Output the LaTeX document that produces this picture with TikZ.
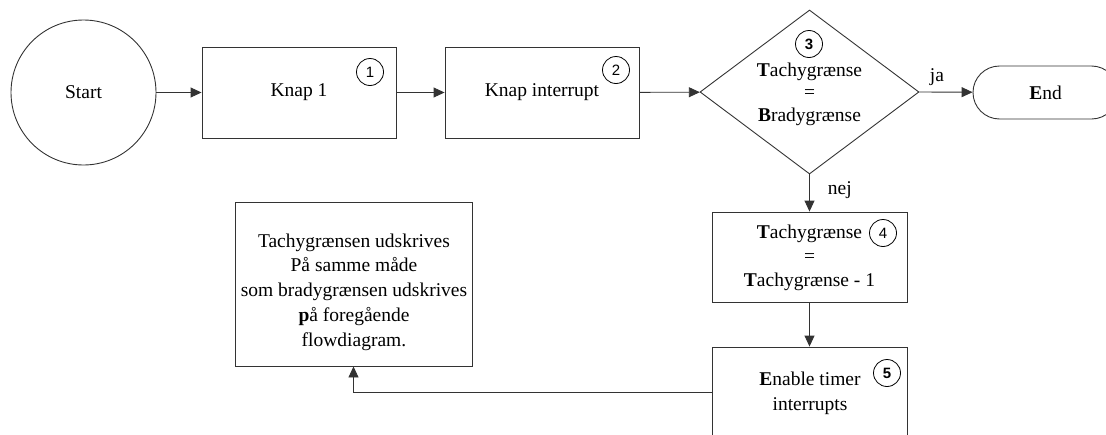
\documentclass[tikz,border=0pt]{standalone}
\usepackage{fontspec}
\setmainfont{Liberation Serif}
\newfontfamily\numfont{Liberation Sans}
\usetikzlibrary{arrows.meta,shapes.geometric,shapes.misc}

\begin{document}
\begin{tikzpicture}[x=1pt,y=-1pt,
  line/.style={draw=black!80, line width=0.9pt},
  flow/.style={line, -{Triangle[length=11pt,width=10pt]}},
  box/.style={line, rectangle, inner sep=0pt},
  lbl/.style={font=\fontsize{19.5}{24}\selectfont, inner sep=0pt, align=center},
  num/.style={draw=black, line width=0.8pt, circle, minimum size=27pt, inner sep=0pt,
              font=\numfont\fontsize{15}{15}\selectfont},
]
\useasboundingbox (0,0) rectangle (1106,434);
\clip (0,0) rectangle (1106,434);

% top row
\node[box, circle, minimum size=145pt, lbl] (start) at (83.5,92.5) {Start};
\node[box, minimum width=194pt, minimum height=91pt, lbl] (k1) at (299,92.5) {Knap 1};
\node[box, minimum width=194pt, minimum height=91pt, lbl] (k2) at (542,92.5) {Knap interrupt};
\node[box, diamond, minimum width=219pt, minimum height=164pt] (dec) at (809.5,92) {};
\node[lbl, font=\fontsize{19.5}{22.5}\selectfont] (dectext) at (809.5,94)
  {\textbf{T}achygrænse\\=\\\textbf{B}radygrænse};
\node[box, rounded rectangle, minimum width=145pt, minimum height=53pt, lbl] (end)
  at (1045.5,92.5) {\textbf{E}nd};

% right column
\node[box, minimum width=195pt, minimum height=90pt] (b4) at (809.5,257) {};
\node[lbl] (b4text) at (809.5,257.5)
  {\textbf{T}achygrænse\\=\\\textbf{T}achygrænse - 1};
\node[box, minimum width=195pt, minimum height=91pt] (b5) at (809.5,392.5) {};
\node[lbl, font=\fontsize{19.5}{25}\selectfont] (b5text) at (810,393)
  {\textbf{E}nable timer\\interrupts};

% note box
\node[box, minimum width=237pt, minimum height=164pt] (note) at (353.5,284) {};
\node[lbl, font=\fontsize{19.5}{24.7}\selectfont] (notetext) at (354,292)
  {Tachygrænsen udskrives\\På samme måde\\som bradygrænsen udskrives\\\textbf{p}å foregående\\flowdiagram.};

% step numbers
\node[num] (n1) at (370,72) {1};
\node[num] (n2) at (616,70) {2};
\node[num] (n3) at (809,44) {\bfseries 3};
\node[num] (n4) at (883,233) {4};
\node[num] (n5) at (887,373) {\bfseries 5};

% connectors
\draw[flow] (start) -- (k1);
\draw[flow] (k1) -- (k2);
\draw[flow] (k2) -- (dec);
\draw[flow] (dec.east) -- node[lbl, pos=0.33, anchor=south, yshift=5.5pt] (ja) {ja} (end);
\draw[flow] (dec.south) -- node[lbl, pos=0.43, anchor=west, xshift=18pt] (nej) {nej} (b4);
\draw[flow] (b4) -- (b5);
\draw[flow] (b5.west) -| (note.south);
\end{tikzpicture}
\end{document}
